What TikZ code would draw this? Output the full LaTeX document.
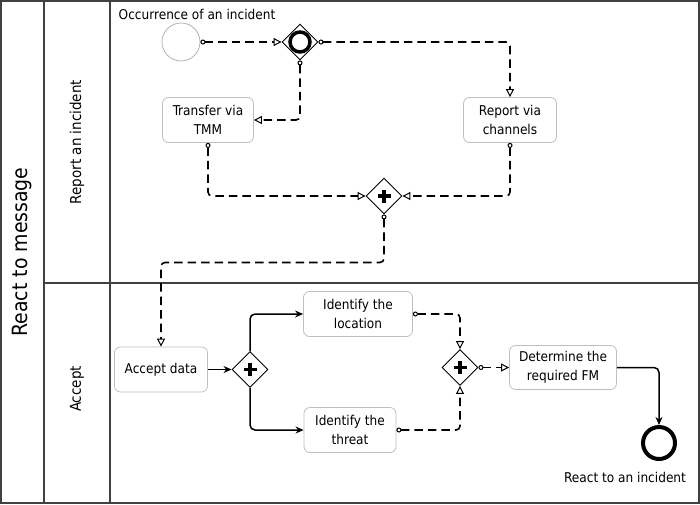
\documentclass[tikz,border=0pt]{standalone}
\usepackage{fontspec}
\setmainfont{DejaVu Sans Condensed}
\usetikzlibrary{arrows.meta,shapes.geometric}
\begin{document}
\begin{tikzpicture}[x=1pt,y=-1pt,
 lane/.style={draw=black!75,line width=1.5pt},
 task/.style={draw=black!25,line width=0.8pt,rounded corners=6pt,fill=white,minimum height=45pt,align=center,inner sep=2pt,font=\fontsize{13.5}{18.5}\selectfont},
 gw/.style={diamond,draw,line width=0.9pt,minimum width=36pt,minimum height=36pt,inner sep=0pt,fill=white},
 msg/.style={line width=1.6pt,dash pattern=on 8.5pt off 5pt,rounded corners=4pt,{Circle[open,length=5pt,width=5pt,line width=1pt,fill=white]}-{Triangle[open,length=8pt,width=8pt,line width=1pt,fill=white]}},
 seq/.style={line width=1.5pt,rounded corners=5pt,-{Stealth[length=8pt,width=7pt]}},
 lbl/.style={font=\fontsize{13.5}{15}\selectfont},
 lanelbl/.style={rotate=90,font=\fontsize{15}{17}\selectfont},
 plus/.style={line width=3.5pt}
]
\useasboundingbox (0,0) rectangle (700,504);
% pool and lanes
\draw[lane,line width=2pt] (1,1) rectangle (699,503);
\draw[lane] (44,0) -- (44,504);
\draw[lane] (110,0) -- (110,504);
\draw[lane] (44,283) -- (700,283);
\node[rotate=90,font=\fontsize{21}{24}\selectfont] (pool) at (22,252) {React to message};
\node[lanelbl] (l1) at (77,142) {Report an incident};
\node[lanelbl] (l2) at (77,389) {Accept};

% nodes
\node[circle,draw=black!30,line width=0.8pt,minimum size=38pt,inner sep=0pt] (start) at (181,42) {};
\node[lbl] (startlbl) at (197,14) {Occurrence of an incident};
\node[gw] (g1) at (300,42) {};
\node[circle,draw,line width=3.5pt,minimum size=20pt,inner sep=0pt] (g1c) at (g1) {};
\node[task,minimum width=91pt] (tmm) at (208,120) {Transfer via\\TMM};
\node[task,minimum width=93pt] (rep) at (510,120) {Report via\\channels};
\node[gw] (g2) at (384,196) {};
\draw[plus] ([yshift=-6.5pt]g2.center) -- ([yshift=6.5pt]g2.center) ([xshift=-6.5pt]g2.center) -- ([xshift=6.5pt]g2.center);

\node[task,minimum width=93pt] (acc) at (161,369.5) {Accept data};
\node[gw] (g3) at (250,369.5) {};
\draw[plus] ([yshift=-6.5pt]g3.center) -- ([yshift=6.5pt]g3.center) ([xshift=-6.5pt]g3.center) -- ([xshift=6.5pt]g3.center);
\node[task,minimum width=109pt] (loc) at (358,314) {Identify the\\location};
\node[task,minimum width=92pt] (thr) at (350,430) {Identify the\\threat};
\node[gw] (g4) at (460,367.5) {};
\draw[plus] ([yshift=-6.5pt]g4.center) -- ([yshift=6.5pt]g4.center) ([xshift=-6.5pt]g4.center) -- ([xshift=6.5pt]g4.center);
\node[task,minimum width=107pt,minimum height=44pt] (det) at (563,367.5) {Determine the\\required FM};
\node[circle,draw,line width=4pt,minimum size=32pt,inner sep=0pt] (end) at (659,443) {};
\node[lbl] (endlbl) at (625,477) {React to an incident};

% message flows
\draw[msg] (start.east) -- (g1.west);
\draw[msg] (g1.east) -| (rep.north);
\draw[msg] (g1.south) |- (tmm.east);
\draw[msg] (tmm.south) |- (g2.west);
\draw[msg] (rep.south) |- (g2.east);
\draw[msg] (g2.south) -- ++(0,48) -| (acc.north);
\draw[msg] (loc.east) -| (g4.north);
\draw[msg] (thr.east) -| (g4.south);
\draw[msg] (g4.east) -- (det.west);

% sequence flows
\draw[seq] (acc.east) -- (g3.west);
\draw[seq] (g3.north) |- (loc.west);
\draw[seq] (g3.south) |- (thr.west);
\draw[seq] (det.east) -| (end.north);
\end{tikzpicture}
\end{document}
